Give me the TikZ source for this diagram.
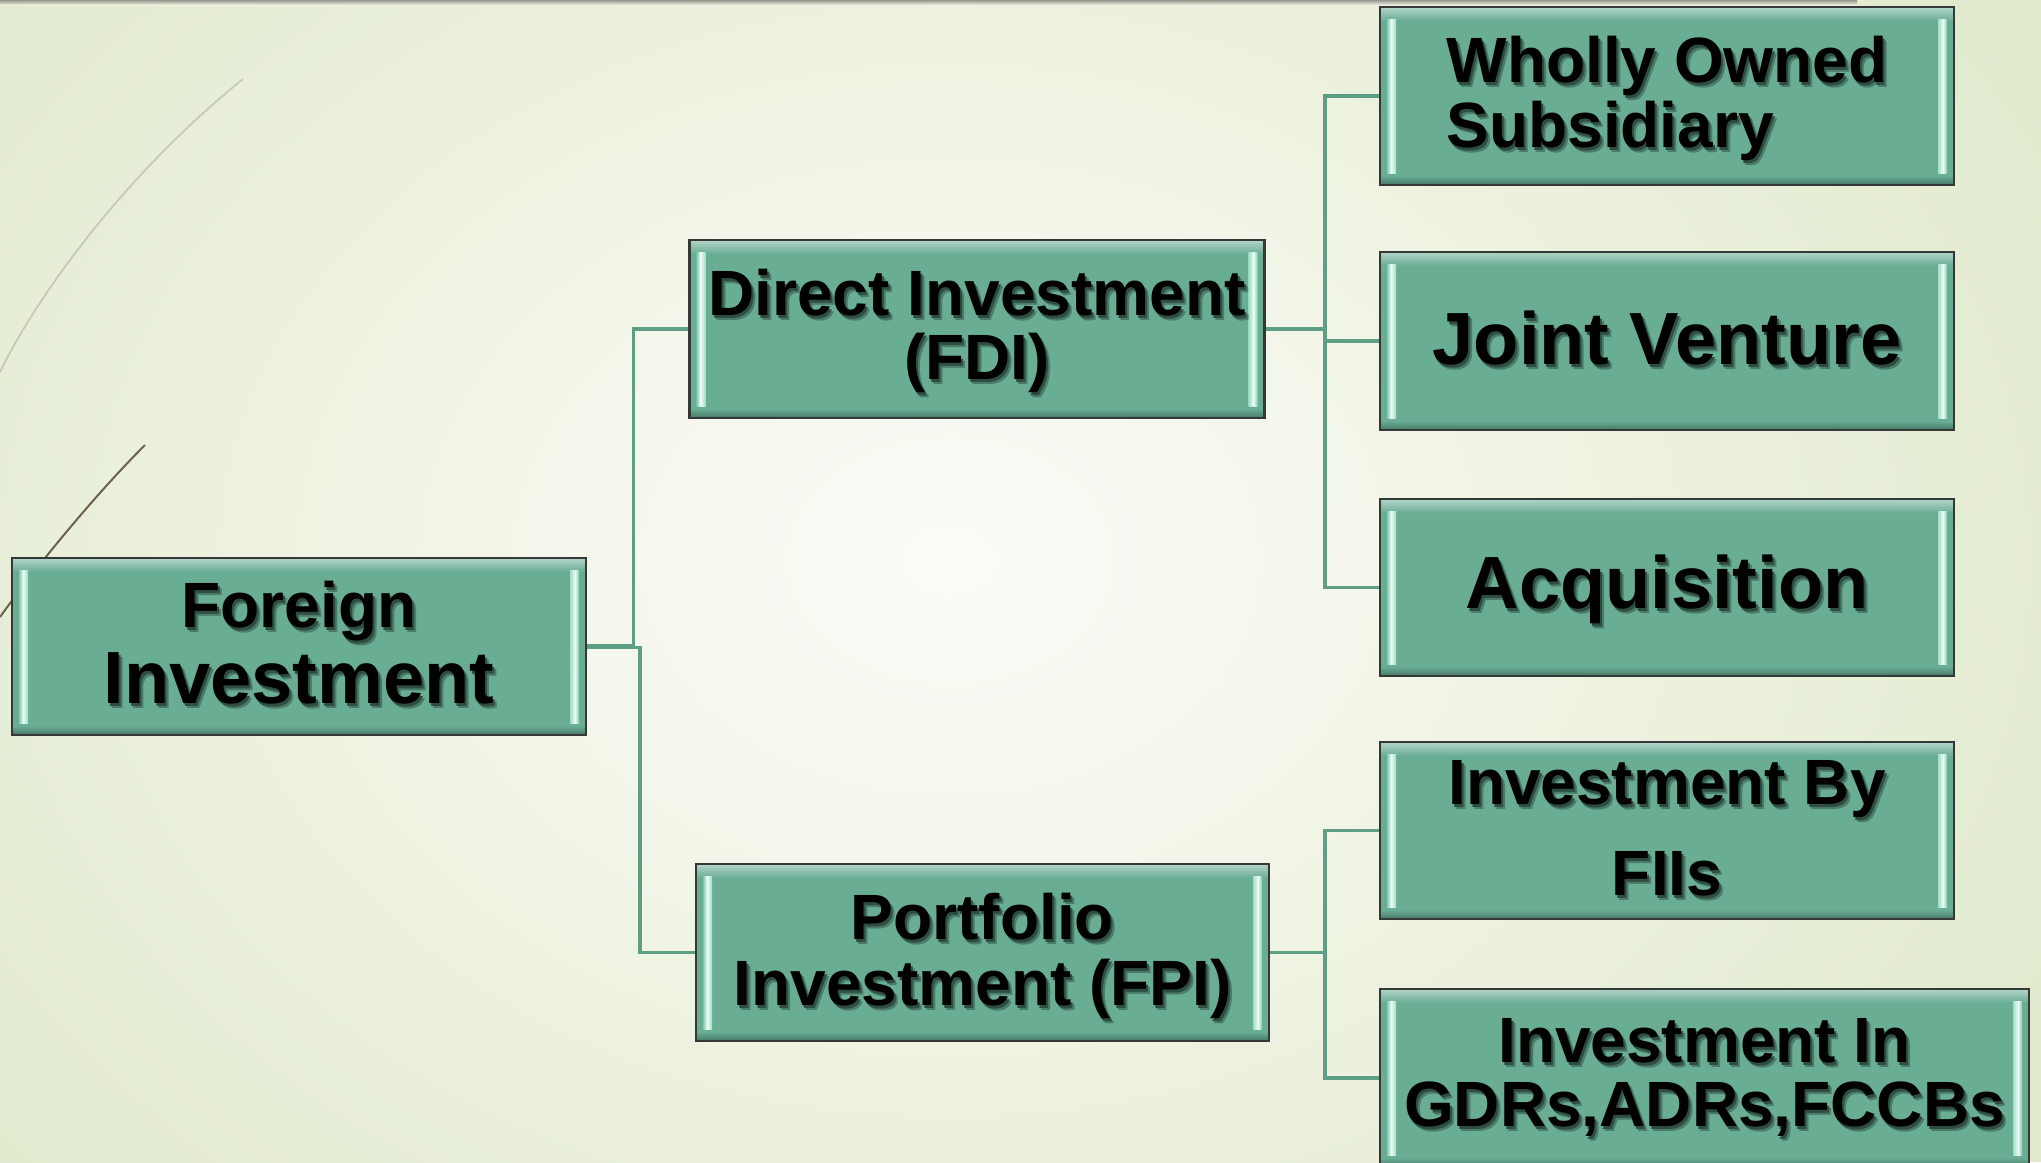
\documentclass[tikz,border=0pt]{standalone}
\usepackage{fontspec}
\setmainfont{Liberation Sans}
\usetikzlibrary{calc}
\definecolor{boxfill}{RGB}{105,173,147}
\definecolor{boxline}{RGB}{52,56,54}
\definecolor{conncol}{RGB}{94,158,133}
\definecolor{bgout}{RGB}{225,234,205}
\definecolor{bgin}{RGB}{252,252,248}
\definecolor{stripA}{RGB}{130,200,175}
\definecolor{stripB}{RGB}{236,252,246}
\definecolor{stripC}{RGB}{160,220,198}
\definecolor{decoA}{RGB}{200,201,186}
\definecolor{decoB}{RGB}{110,96,76}
\definecolor{topbar}{RGB}{150,152,140}
\colorlet{shadowfar}{boxfill!72!black}
\colorlet{shadownear}{boxfill!45!black}
\newcommand\fsz[2]{\fontsize{#1}{#2}\selectfont}
% one line of text with its soft drop shadow
\newcommand\sh[1]{\leavevmode
  \rlap{\hspace{4pt}\raisebox{-5pt}{\textcolor{shadowfar}{#1}}}%
  \rlap{\hspace{2pt}\raisebox{-3pt}{\textcolor{shadownear}{#1}}}%
  #1}
\tikzset{
  gbox/.style={rectangle, fill=boxfill, inner sep=0pt, outer sep=0pt},
  boxborder/.style={draw=boxline, line width=2.2pt},
  txt/.style={inner sep=0pt, align=center, text=black, font=\bfseries},
  conn/.style={draw=conncol, line width=3.2pt, line join=miter},
}
% #1 name, #2 cx, #3 cy, #4 w, #5 h, #6 text options, #7 text
\newcommand\gbox[7]{%
  \node[gbox, minimum width=#4pt, minimum height=#5pt] (#1) at (#2,#3) {};
  \shade[top color=boxfill!55!white, bottom color=boxfill]
    ([shift={(1,1)}]#1.north west) rectangle ([shift={(-1,14)}]#1.north east);
  \shade[top color=boxfill, bottom color=boxfill!72!black]
    ([shift={(1,-9)}]#1.south west) rectangle ([shift={(-1,-1)}]#1.south east);
  \shade[left color=stripA, right color=stripB]
    ([shift={(7,12)}]#1.north west) rectangle ([shift={(11,-12)}]#1.south west);
  \shade[left color=stripB, right color=stripC]
    ([shift={(11,12)}]#1.north west) rectangle ([shift={(16,-12)}]#1.south west);
  \shade[left color=stripC, right color=stripB]
    ([shift={(-16,12)}]#1.north east) rectangle ([shift={(-11,-12)}]#1.south east);
  \shade[left color=stripB, right color=stripA]
    ([shift={(-11,12)}]#1.north east) rectangle ([shift={(-7,-12)}]#1.south east);
  \draw[boxborder] (#1.north west) rectangle (#1.south east);
  \node[txt, #6] (#1text) at (#1.center) {#7};
}
\begin{document}
\begin{tikzpicture}[x=1pt, y=-1pt]
\useasboundingbox (0,0) rectangle (2041,1162);
\begin{scope}
\clip (0,0) rectangle (2041,1162);
% background
\fill[bgout] (0,0) rectangle (2041,1162);
\shade[inner color=bgin, outer color=bgout] (950,560) ellipse (1250 and 950);
\shade[top color=topbar, bottom color=bgout!60!white] (0,0) rectangle (1857,5);
% decorative lines
\draw[decoA, line width=1.8pt] (0,372) .. controls (40,290) and (130,170) .. (243,79);
\draw[decoB, line width=2pt] (0,617) .. controls (30,575) and (90,500) .. (145,445);

% node frames (geometry for connectors)
\path node[gbox, fill=none, minimum width=574pt, minimum height=177pt] (FI) at (299,646.5) {}
      node[gbox, fill=none, minimum width=575pt, minimum height=178pt] (DI) at (977,329) {}
      node[gbox, fill=none, minimum width=573pt, minimum height=177pt] (PI) at (982.5,952.5) {}
      node[gbox, fill=none, minimum width=574pt, minimum height=178pt] (WOS) at (1667,96) {}
      node[gbox, fill=none, minimum width=574pt, minimum height=178pt] (JV) at (1667,341) {}
      node[gbox, fill=none, minimum width=574pt, minimum height=177pt] (ACQ) at (1667,587.5) {}
      node[gbox, fill=none, minimum width=574pt, minimum height=177pt] (FII) at (1667,830.5) {}
      node[gbox, fill=none, minimum width=649pt, minimum height=178pt] (GDR) at (1704.5,1078) {};

% connectors
\draw[conn] ([yshift=1.2pt]FI.east) -| ([xshift=-56]DI.west) -- (DI.west);
\draw[conn] ([yshift=-1.2pt]FI.east) -| ([xshift=-56]PI.west) -- (PI.west);
\draw[conn] (DI.east) -| ([xshift=-55]WOS.west) -- (WOS.west);
\draw[conn] (DI.east) -| ([xshift=-55]JV.west) -- (JV.west);
\draw[conn] (DI.east) -| ([xshift=-55]ACQ.west) -- (ACQ.west);
\draw[conn] (PI.east) -| ([xshift=-55]FII.west) -- (FII.west);
\draw[conn] (PI.east) -| ([xshift=-55]GDR.west) -- (GDR.west);

% boxes
\gbox{FIbox}{299}{646.5}{574}{177}{font=\bfseries\fsz{74}{76}, yshift=1pt}{{\fsz{64}{64}\sh{Foreign}}\\\sh{Investment}}
\gbox{DIbox}{977}{329}{575}{178}{font=\bfseries\fsz{64}{64}, yshift=-4pt}{\sh{Direct Investment}\\\sh{(FDI)}}
\gbox{PIbox}{982.5}{952.5}{573}{177}{font=\bfseries\fsz{64}{66}, yshift=-6pt}{\sh{Portfolio}\\\sh{Investment (FPI)}}
\gbox{WOSbox}{1667}{96}{574}{178}{font=\bfseries\fsz{64}{65}, align=left, yshift=-5pt}{\sh{Wholly Owned}\\\sh{Subsidiary}}
\gbox{JVbox}{1667}{341}{574}{178}{font=\bfseries\fsz{74}{74}}{\sh{Joint Venture}}
\gbox{ACQbox}{1667}{587.5}{574}{177}{font=\bfseries\fsz{74}{74}, yshift=-4pt}{\sh{Acquisition}}
\gbox{FIIbox}{1667}{830.5}{574}{177}{font=\bfseries\fsz{64}{64}}{\sh{Investment By}\\[27pt]\sh{FIIs}}
\gbox{GDRbox}{1704.5}{1078}{649}{178}{font=\bfseries\fsz{64}{64}, yshift=-2pt}{\sh{Investment In}\\\sh{GDRs,ADRs,FCCBs}}
\end{scope}
\end{tikzpicture}
\end{document}
